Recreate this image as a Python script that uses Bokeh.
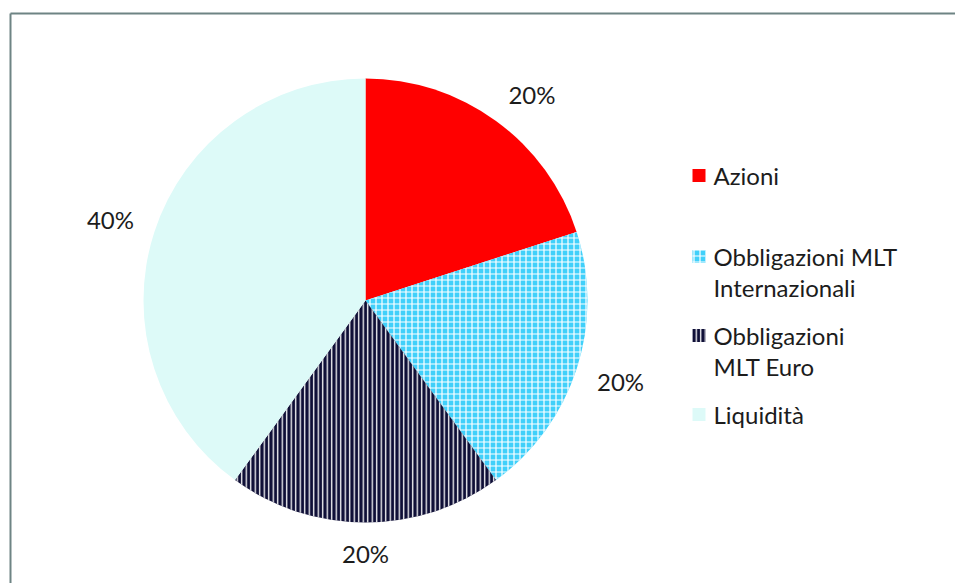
import math
from bokeh.plotting import figure
from bokeh.models import Range1d
from bokeh.core.properties import value
from bokeh.embed import file_html
from bokeh.resources import INLINE

# ---- data ----
categories = ["Azioni", "Obbligazioni MLT Internazionali", "Obbligazioni MLT Euro", "Liquidità"]
values = [20, 20, 20, 40]
legend_lines = [["Azioni"], ["Obbligazioni MLT", "Internazionali"], ["Obbligazioni", "MLT Euro"], ["Liquidità"]]
colors = ["#FF0000", "#40D0FA", "#0E0E36", "#DDFAF8"]
hatches = [None, "+", "|", None]

# ---- layout ----
W, H = 955, 583
PAGE_H = 583
def sy(y):  # screen y -> data y
    return PAGE_H - y

FONT = value("Lato")
TXT = "#1c1c1c"
HATCH_STYLE = {
    "+": dict(hatch_color="white", hatch_scale=6, hatch_weight=1.2),
    "|": dict(hatch_color="white", hatch_scale=4.5, hatch_weight=1.3),
}

p = figure(width=W, height=H, output_backend="svg", toolbar_location=None,
           x_range=Range1d(0, W), y_range=Range1d(PAGE_H - H, PAGE_H),
           x_axis_location=None, y_axis_location=None, min_border=0,
           background_fill_color="white", border_fill_color="white")
p.outline_line_color = None
p.grid.visible = False

# frame (top and left edges visible)
p.segment(x0=[10, 10], y0=[sy(13), sy(13)], x1=[W, 10], y1=[sy(13), sy(PAGE_H)],
          line_color="#6E8484", line_width=2)

# pie
cx, cy, R = 365, sy(300), 222
total = sum(values)
cum = 0
mids = []
for cat, v, col, hp in zip(categories, values, colors, hatches):
    a0 = 90 - cum / total * 360
    cum += v
    a1 = 90 - cum / total * 360
    mids.append(math.radians((a0 + a1) / 2))
    kw = dict(x=cx, y=cy, radius=R, start_angle=a0, end_angle=a1, start_angle_units="deg",
              end_angle_units="deg", direction="clock", fill_color=col, line_color=None)
    if hp:
        kw.update(hatch_pattern=hp, **HATCH_STYLE[hp])
    p.wedge(**kw)

# percentage labels (outside end, box pushed away from the pie)
gap, bw, bh = 22, 46, 18
def clamp(t):
    return max(-1.0, min(1.0, t))
lx = [cx + (R + gap) * math.cos(m) + bw / 2 * clamp(2 * math.cos(m)) for m in mids]
ly = [cy + (R + gap) * math.sin(m) + bh / 2 * clamp(2 * math.sin(m)) for m in mids]
p.text(x=lx, y=ly, text=[f"{v}%" for v in values], text_font=FONT, text_font_size="24px",
       text_color=TXT, text_align="center", text_baseline="middle")

# legend
first_mid = [175, 256, 335, 414]
line_gap = 31
for i, (lines, col, hp) in enumerate(zip(legend_lines, colors, hatches)):
    m = first_mid[i]
    kw = dict(x=698.5, y=sy(m), width=13, height=13, fill_color=col, line_color=None)
    if hp:
        kw.update(hatch_pattern=hp, **HATCH_STYLE[hp])
    p.rect(**kw)
    p.text(x=[713] * len(lines), y=[sy(m + j * line_gap) for j in range(len(lines))], text=lines,
           text_font=FONT, text_font_size="24px", text_color=TXT,
           text_align="left", text_baseline="middle")

open("out.html", "w").write(file_html(p, INLINE))
